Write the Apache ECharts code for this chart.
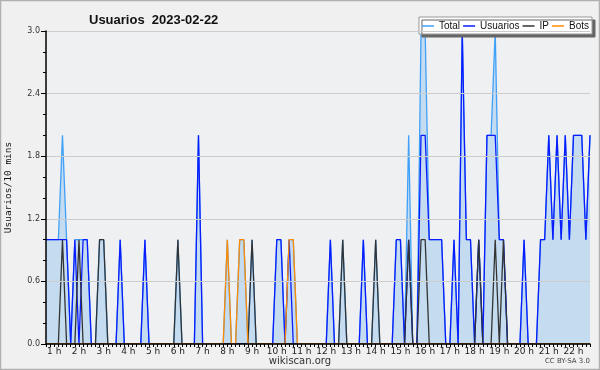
<!DOCTYPE html>
<html><head><meta charset="utf-8">
<script src="https://cdn.jsdelivr.net/npm/echarts@6/dist/echarts.min.js"></script>
<style>html,body{margin:0;padding:0;background:#f0f0f0}#c{width:600px;height:370px}</style>
</head><body><div id="c"></div>
<script>
// 10-minute slots from 00:40 to 22:40
const startMinute = 40;
const slotCount = 133;
const hourLabels = ['1 h','2 h','3 h','4 h','5 h','6 h','7 h','8 h','9 h','10 h','11 h','12 h','13 h','14 h','15 h','16 h','17 h','18 h','19 h','20 h','21 h','22 h'];

const total = [
 1,1,1,1,2,1,0,1,1,1,1,0,
 0,1,1,0,0,0,1,0,0,0,0,0,
 1,0,0,0,0,0,0,0,1,0,0,0,
 0,2,0,0,0,0,0,0,1,0,0,1,
 1,0,1,0,0,0,0,0,1,1,0,1,
 1,0,0,0,0,0,0,0,0,1,0,0,
 1,0,0,0,0,1,0,0,1,0,0,0,
 0,1,1,0,2,0,0,3,3,1,1,1,
 1,0,0,1,0,3,1,1,0,1,0,2,
 2,3,1,1,0,0,0,0,1,0,0,0,
 1,1,2,1,2,1,2,1,2,2,2,1,
 2];
const usuarios = [
 1,1,1,1,1,1,0,1,0,1,1,0,
 0,0,0,0,0,0,1,0,0,0,0,0,
 1,0,0,0,0,0,0,0,0,0,0,0,
 0,2,0,0,0,0,0,0,0,0,0,0,
 0,0,0,0,0,0,0,0,1,1,0,1,
 0,0,0,0,0,0,0,0,0,1,0,0,
 0,0,0,0,0,1,0,0,0,0,0,0,
 0,1,1,0,1,0,0,2,2,1,1,1,
 1,0,0,1,0,3,1,1,0,1,0,2,
 2,2,1,1,0,0,0,0,1,0,0,0,
 1,1,2,1,2,1,2,1,2,2,2,1,
 2];
const ip = [
 0,0,0,0,1,0,0,0,1,0,0,0,
 0,1,1,0,0,0,0,0,0,0,0,0,
 0,0,0,0,0,0,0,0,1,0,0,0,
 0,0,0,0,0,0,0,0,0,0,0,0,
 0,0,1,0,0,0,0,0,0,0,0,0,
 0,0,0,0,0,0,0,0,0,0,0,0,
 1,0,0,0,0,0,0,0,1,0,0,0,
 0,0,0,0,1,0,0,1,1,0,0,0,
 0,0,0,0,0,0,0,0,0,1,0,0,
 0,1,0,1,0,0,0,0,0,0,0,0,
 0,0,0,0,0,0,0,0,0,0,0,0,
 0];
const bots = [
 0,0,0,0,0,0,0,0,0,0,0,0,
 0,0,0,0,0,0,0,0,0,0,0,0,
 0,0,0,0,0,0,0,0,0,0,0,0,
 0,0,0,0,0,0,0,0,1,0,0,1,
 1,0,0,0,0,0,0,0,0,0,0,1,
 1,0,0,0,0,0,0,0,0,0,0,0,
 0,0,0,0,0,0,0,0,0,0,0,0,
 0,0,0,0,0,0,0,0,0,0,0,0,
 0,0,0,0,0,0,0,0,0,0,0,0,
 0,0,0,0,0,0,0,0,0,0,0,0,
 0,0,0,0,0,0,0,0,0,0,0,0,
 0];

const categories = [];
for (let i = 0; i < slotCount; i++) {
  const m = startMinute + 10 * i;
  categories.push(m % 60 === 0 ? hourLabels[m / 60 - 1] : '');
}

const chart = echarts.init(document.getElementById('c'), null, {renderer: 'canvas'});
const font = 'DejaVu Sans';
function lineSeries(name, data, color, extra) {
  return Object.assign({
    name, type: 'line', data, symbol: 'none', smooth: false,
    lineStyle: {color, width: 1.3}, itemStyle: {color},
    emphasis: {disabled: true}, animation: false
  }, extra || {});
}
chart.setOption({
  backgroundColor: '#f0f0f0',
  animation: false,
  title: {
    text: 'Usuarios  2023-02-22', left: 84, top: 9,
    textStyle: {fontFamily: 'Liberation Sans', fontSize: 13, fontWeight: 'bold', color: '#111'}
  },
  legend: {
    right: 8, top: 17, itemGap: 3, itemWidth: 12, itemHeight: 1.5, icon: 'rect',
    backgroundColor: '#ffffff', borderColor: '#999', borderWidth: 1,
    padding: [4, 3, 3, 3],
    shadowColor: '#666', shadowBlur: 0, shadowOffsetX: 3, shadowOffsetY: 3,
    textStyle: {fontFamily: 'Liberation Sans', fontSize: 10, color: '#111'},
    data: ['Total', 'Usuarios', 'IP', 'Bots']
  },
  grid: {left: 46, right: 10, top: 31, bottom: 26, show: true, backgroundColor: '#eef0f2', borderWidth: 0,
         containLabel: false, outerBoundsMode: 'none'},
  xAxis: {
    type: 'category', data: categories, boundaryGap: false, z: 10,
    axisLine: {lineStyle: {color: '#000', width: 1.5}},
    axisTick: {interval: 0, length: 3, lineStyle: {color: '#000'}},
    axisLabel: {interval: (idx, v) => v !== '', fontFamily: font, fontSize: 9, color: '#222', margin: 3},
    splitLine: {show: false}
  },
  yAxis: {
    type: 'value', min: 0, max: 3, interval: 0.6, z: 10,
    name: 'Usuarios/10 mins', nameLocation: 'middle', nameRotate: 90, nameGap: 32,
    nameTextStyle: {fontFamily: 'DejaVu Sans Mono', fontSize: 9.5, color: '#111'},
    axisLine: {show: true, lineStyle: {color: '#000', width: 1.5}},
    axisTick: {show: true, length: 5, lineStyle: {color: '#000'}},
    minorTick: {show: true, splitNumber: 3, length: 3, lineStyle: {color: '#000'}},
    axisLabel: {formatter: v => v.toFixed(1), fontFamily: font, fontSize: 8, color: '#333', margin: 6},
    splitLine: {show: true, lineStyle: {color: '#cccccc', width: 1}}
  },
  series: [
    lineSeries('Total', total, '#3fa0f8', {areaStyle: {color: '#c5dcf0', opacity: 1}}),
    lineSeries('Usuarios', usuarios, '#0a1cff'),
    lineSeries('IP', ip, '#333333'),
    lineSeries('Bots', bots, '#ff8c00')
  ],
  graphic: [
    {type: 'rect', shape: {x: 0.5, y: 0.5, width: 599, height: 369}, style: {fill: null, stroke: '#b0b0b0', lineWidth: 1.5}, silent: true},
    {type: 'text', left: 'center', top: 356, style: {text: 'wikiscan.org', font: '10px DejaVu Sans', fill: '#333'}},
    {type: 'text', right: 10, top: 358, style: {text: 'CC BY-SA 3.0', font: '7px DejaVu Sans', fill: '#444'}}
  ]
});
</script></body></html>
